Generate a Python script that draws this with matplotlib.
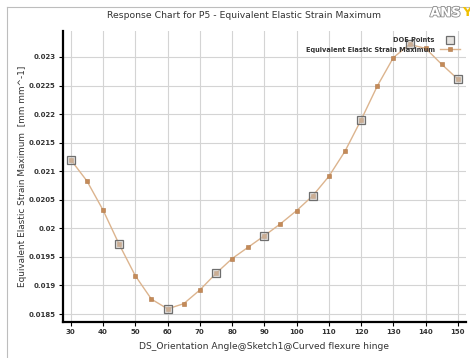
import matplotlib
matplotlib.use("Agg")
import matplotlib.pyplot as plt
import matplotlib.patheffects as pe
from matplotlib.lines import Line2D

angles = [30, 35, 40, 45, 50, 55, 60, 65, 70, 75, 80, 85, 90, 95, 100,
          105, 110, 115, 120, 125, 130, 135, 140, 145, 150]
strain = [0.02120, 0.02083, 0.02032, 0.01972, 0.01917, 0.01876, 0.01859,
          0.01868, 0.01892, 0.01921, 0.01947, 0.01967, 0.01987, 0.02008,
          0.02031, 0.02057, 0.02091, 0.02135, 0.02190, 0.02249, 0.02299,
          0.02322, 0.02315, 0.02287, 0.02261]
doe_angles = [30, 45, 60, 75, 90, 105, 120, 135, 150]
doe_strain = [0.02120, 0.01972, 0.01859, 0.01921, 0.01987, 0.02057,
              0.02190, 0.02322, 0.02261]
x_ticks = [30, 40, 50, 60, 70, 80, 90, 100, 110, 120, 130, 140, 150]
y_ticks = [0.0185, 0.019, 0.0195, 0.02, 0.0205, 0.021, 0.0215, 0.022,
           0.0225, 0.023]
y_tick_labels = ["0.0185", "0.019", "0.0195", "0.02", "0.0205", "0.021",
                 "0.0215", "0.022", "0.0225", "0.023"]

W, H = 470, 358
fig = plt.figure(figsize=(W / 100, H / 100), dpi=100)
fig.patch.set_facecolor("white")

# outer frame
fig.add_artist(Line2D([7 / W, 7 / W], [0, 1 - 7 / H], transform=fig.transFigure,
                      color="#bdbdbd", lw=0.8))
fig.add_artist(Line2D([7 / W, 1], [1 - 7 / H, 1 - 7 / H], transform=fig.transFigure,
                      color="#bdbdbd", lw=0.8))

left, right, bottom, top = 62.7, 466, 322, 30.7
ax = fig.add_axes([left / W, 1 - bottom / H, (right - left) / W, (bottom - top) / H])

line_col = "#dcb48e"
mk_col = "#c48a58"
ax.plot(angles, strain, color=line_col, lw=1.0, marker="s", markersize=2.8,
        markerfacecolor=mk_col, markeredgecolor="#b07848", markeredgewidth=0.4,
        label="Equivalent Elastic Strain Maximum", zorder=3)
ax.plot(doe_angles, doe_strain, linestyle="none", marker="s", markersize=6.3,
        markerfacecolor=(0.82, 0.80, 0.78, 0.55), markeredgecolor="#6e6e6e",
        markeredgewidth=0.9, label="DOE Points", zorder=4)

ax.set_xlim(27.5, 152.5)
ax.set_ylim(0.01836, 0.02346)
ax.set_xticks(x_ticks)
ax.set_xticklabels([str(v) for v in x_ticks])
ax.set_yticks(y_ticks)
ax.set_yticklabels(y_tick_labels)
ax.grid(True, color="#d4d4d4", lw=0.8)
ax.set_axisbelow(True)
for s in ["top", "right"]:
    ax.spines[s].set_visible(False)
for s in ["left", "bottom"]:
    ax.spines[s].set_linewidth(1.6)
    ax.spines[s].set_color("black")
ax.tick_params(axis="both", length=3, width=0.8, color="black", pad=2,
               labelsize=5, labelcolor="#333333")
for lab in ax.get_xticklabels() + ax.get_yticklabels():
    lab.set_fontweight("bold")

ax.set_xlabel("DS_Orientation Angle@Sketch1@Curved flexure hinge",
              fontsize=6.6, color="#333333", labelpad=5)
ax.set_ylabel("Equivalent Elastic Strain Maximum  [mm mm^-1]",
              fontsize=6.4, color="#333333", labelpad=1)

fig.text(244 / W, 1 - 15 / H, "Response Chart for P5 - Equivalent Elastic Strain Maximum",
         ha="center", va="center", fontsize=6.7, color="#333333")

# legend
handles, labels = ax.get_legend_handles_labels()
leg = ax.legend(handles[::-1], labels[::-1], loc="upper right",
                bbox_to_anchor=((460 - left) / (right - left), (bottom - 37) / (bottom - top)),
                frameon=False, markerfirst=False,
                prop={"size": 4.8, "weight": "bold"}, handlelength=3.0,
                handletextpad=0.8, labelspacing=0.55, borderaxespad=0.0,
                borderpad=0.0)
for t in leg.get_texts():
    t.set_color("#333333")

# logo
fig.text(430 / W, 1 - 13 / H, "ANS", fontsize=9.5, fontweight="bold", color="white",
         ha="left", va="center",
         path_effects=[pe.withStroke(linewidth=1.2, foreground="#8a8a8a")])
fig.text(462 / W, 1 - 13 / H, "YS", fontsize=9.5, fontweight="bold", color="#f0c000",
         ha="left", va="center")

fig.savefig("out.png", dpi=100)
